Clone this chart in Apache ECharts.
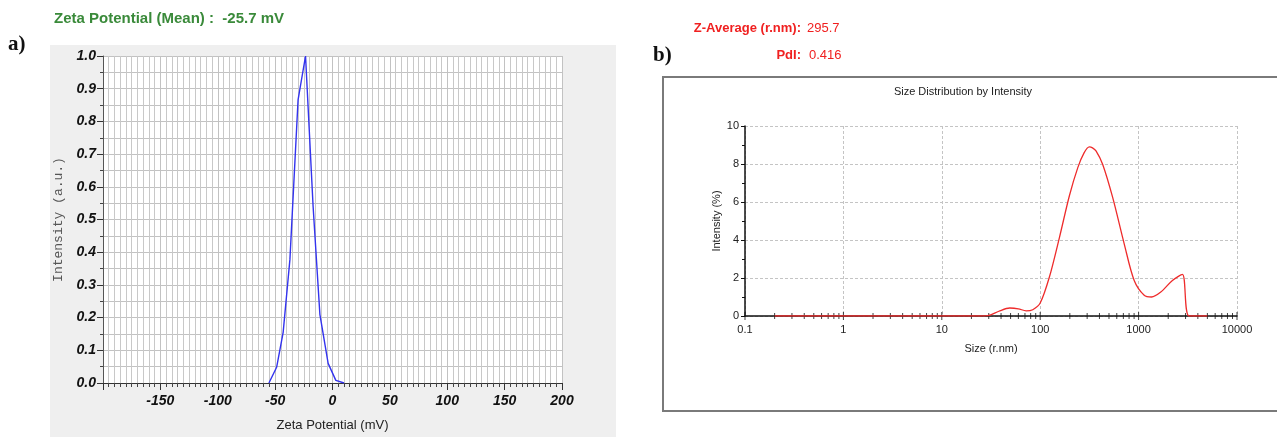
<!DOCTYPE html>
<html>
<head>
<meta charset="utf-8">
<script src="https://cdn.jsdelivr.net/npm/echarts/dist/echarts.min.js"></script>
<style>
html,body{margin:0;padding:0;background:#fff;}
#c{width:1277px;height:437px;}
</style>
</head>
<body>
<div id="c"></div>
<script>
// ---- Data: (a) zeta potential distribution ----
const zetaMv = [-55.4, -48.7, -43.0, -37.1, -30.0, -23.5, -16.9, -11.0, -3.8, 2.9, 10.1];
const zetaIntensity = [0, 0.048, 0.155, 0.378, 0.866, 1.0, 0.54, 0.21, 0.06, 0.008, 0];

// ---- Data: (b) size distribution by intensity ----
const sizeNm = [0.2, 25, 29.5, 38, 49, 60, 72, 84, 100, 124, 157, 198, 241, 280, 316, 340, 369, 431, 545, 714, 902, 1140, 1353, 1680, 2206, 2786, 3260, 5000];
const sizeIntensity = [0, 0, 0.02, 0.25, 0.42, 0.38, 0.27, 0.33, 0.68, 2.05, 4.14, 6.33, 7.81, 8.6, 8.9, 8.85, 8.69, 7.99, 6.24, 3.8, 1.87, 1.09, 1.0, 1.26, 1.87, 2.19, 0, 0];

// ---- Tick helpers ----
const logDecades = [0.1, 1, 10, 100, 1000, 10000];
const logMultipliers = [2, 3, 4, 5, 6, 7, 8, 9];

const zetaPairs = zetaMv.map((x, i) => [x, zetaIntensity[i]]);
const sizePairs = sizeNm.map((x, i) => [x, sizeIntensity[i]]);
const logTickPos = [];
logDecades.forEach((d, i) => {
  logTickPos.push([d, 0, 'major']);
  if (i < logDecades.length - 1) logMultipliers.forEach(m => logTickPos.push([d * m, 0, 'minor']));
});

const chart = echarts.init(document.getElementById('c'), null, {renderer: 'canvas'});
const SANS = 'Liberation Sans, Arial, sans-serif';

chart.setOption({
  animation: false,
  backgroundColor: '#ffffff',
  graphic: [
    {type: 'rect', z: -100, shape: {x: 50, y: 45, width: 566, height: 392}, style: {fill: '#efefef'}},
    {type: 'rect', z: -100, shape: {x: 663, y: 77, width: 630, height: 334}, style: {fill: '#ffffff', stroke: '#7a7a7a', lineWidth: 2}},
    {type: 'text', z: 100, left: 54, top: 11, style: {text: 'Zeta Potential (Mean) :  -25.7 mV', fill: '#3a8a3a', font: 'bold 15px ' + SANS}},
    {type: 'text', z: 100, left: 8, top: 34, style: {text: 'a)', fill: '#111', font: 'bold 21px Liberation Serif, Times New Roman, serif'}},
    {type: 'text', z: 100, left: 653, top: 45, style: {text: 'b)', fill: '#111', font: 'bold 21px Liberation Serif, Times New Roman, serif'}},
    {type: 'text', z: 100, style: {x: 801, y: 28, text: 'Z-Average (r.nm):', align: 'right', verticalAlign: 'middle', fill: '#f02020', font: 'bold 13px ' + SANS}},
    {type: 'text', z: 100, style: {x: 807, y: 28, text: '295.7', align: 'left', verticalAlign: 'middle', fill: '#f02020', font: '13px ' + SANS}},
    {type: 'text', z: 100, style: {x: 801, y: 55, text: 'PdI:', align: 'right', verticalAlign: 'middle', fill: '#f02020', font: 'bold 13px ' + SANS}},
    {type: 'text', z: 100, style: {x: 809, y: 55, text: '0.416', align: 'left', verticalAlign: 'middle', fill: '#f02020', font: '13px ' + SANS}},
    {type: 'text', z: 100, style: {x: 963, y: 92, text: 'Size Distribution by Intensity', align: 'center', verticalAlign: 'middle', fill: '#222', font: '11px ' + SANS}}
  ],
  grid: [
    {left: 103, top: 56, width: 459, height: 330, show: true, backgroundColor: '#ffffff', borderWidth: 0},
    {left: 745, top: 126, width: 492, height: 190, show: false}
  ],
  xAxis: [
    {
      gridIndex: 0, type: 'value', min: -200, max: 200, interval: 50,
      name: 'Zeta Potential (mV)', nameLocation: 'middle', nameGap: 36,
      nameTextStyle: {fontFamily: SANS, fontSize: 13, color: '#222'},
      axisLine: {show: true, onZero: false, lineStyle: {color: '#333', width: 1}},
      axisTick: {show: true, length: 7, lineStyle: {color: '#333'}},
      minorTick: {show: true, splitNumber: 10, length: 4, lineStyle: {color: '#444'}},
      splitLine: {show: true, lineStyle: {color: '#c2c2c2', width: 1}},
      minorSplitLine: {show: true, lineStyle: {color: '#c8c8c8', width: 1}},
      axisLabel: {showMinLabel: false, margin: 11, fontFamily: SANS, fontSize: 14, fontWeight: 'bold', fontStyle: 'italic', color: '#111'}
    },
    {
      gridIndex: 1, type: 'log', logBase: 10, min: 0.1, max: 10000,
      name: 'Size (r.nm)', nameLocation: 'middle', nameGap: 27,
      nameTextStyle: {fontFamily: SANS, fontSize: 11, color: '#222'},
      axisLine: {show: true, onZero: false, lineStyle: {color: '#111', width: 1.5}},
      axisTick: {show: false},
      splitLine: {show: true, lineStyle: {color: '#c4c4c4', type: [3, 2], width: 1}},
      axisLabel: {margin: 8, fontFamily: SANS, fontSize: 11, color: '#222',
        formatter: v => String(Number(v.toPrecision(6)))}
    }
  ],
  yAxis: [
    {
      gridIndex: 0, type: 'value', min: 0, max: 1, interval: 0.1,
      name: 'Intensity (a.u.)', nameLocation: 'middle', nameGap: 38,
      nameTextStyle: {fontFamily: 'Liberation Mono, Courier New, monospace', fontSize: 13, color: '#555'},
      axisLine: {show: true, onZero: false, lineStyle: {color: '#555', width: 1}},
      axisTick: {show: true, length: 6, lineStyle: {color: '#333'}},
      minorTick: {show: true, splitNumber: 2, length: 3, lineStyle: {color: '#444'}},
      splitLine: {show: true, lineStyle: {color: '#c2c2c2', width: 1}},
      minorSplitLine: {show: true, lineStyle: {color: '#c2c2c2', width: 1}},
      axisLabel: {margin: 7, fontFamily: SANS, fontSize: 14, fontWeight: 'bold', fontStyle: 'italic', color: '#111',
        formatter: v => v.toFixed(1)}
    },
    {
      gridIndex: 1, type: 'value', min: 0, max: 10, interval: 2,
      name: 'Intensity (%)', nameLocation: 'middle', nameGap: 22,
      nameTextStyle: {fontFamily: SANS, fontSize: 11, color: '#222'},
      axisLine: {show: true, onZero: false, lineStyle: {color: '#111', width: 1.5}},
      axisTick: {show: true, length: 4, lineStyle: {color: '#111'}},
      minorTick: {show: true, splitNumber: 2, length: 3, lineStyle: {color: '#111'}},
      splitLine: {show: true, lineStyle: {color: '#c4c4c4', type: [3, 2], width: 1}},
      axisLabel: {margin: 6, fontFamily: SANS, fontSize: 11, color: '#222'}
    }
  ],
  series: [
    {
      type: 'line', xAxisIndex: 0, yAxisIndex: 0, data: zetaPairs,
      showSymbol: false, symbol: 'none', smooth: false,
      lineStyle: {color: '#3333ee', width: 1.4}, z: 5
    },
    {
      type: 'scatter', xAxisIndex: 1, yAxisIndex: 1, silent: true,
      data: logTickPos, symbol: 'rect',
      symbolSize: (v) => v[2] === 'major' ? [1, 8] : [1, 6],
      itemStyle: {color: '#111'}, z: 4
    },
    {
      type: 'line', xAxisIndex: 1, yAxisIndex: 1, data: sizePairs,
      showSymbol: false, symbol: 'none', smooth: 0.3,
      lineStyle: {color: '#ee2b2b', width: 1.3}, z: 5
    }
  ]
});
</script>
</body>
</html>
